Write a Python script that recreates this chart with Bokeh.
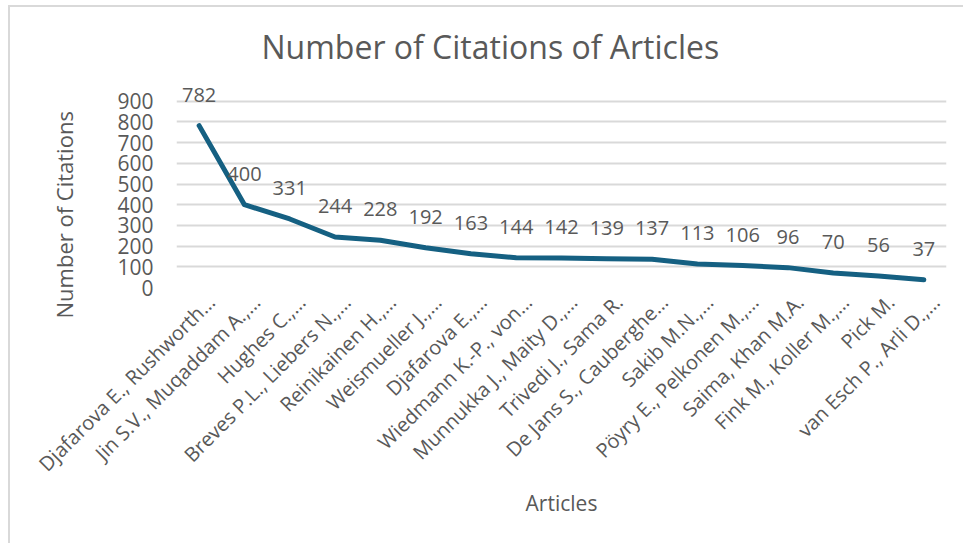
import math
from bokeh.plotting import figure
from bokeh.models import FixedTicker, ColumnDataSource, Range1d, Title, LinearAxis
from bokeh.embed import file_html
from bokeh.resources import INLINE
from bokeh.core.properties import value

articles = [
    "Djafarova E., Rushworth…",
    "Jin S.V., Muqaddam A.,…",
    "Hughes C.,…",
    "Breves P.L., Liebers N.,…",
    "Reinikainen H.,…",
    "Weismueller J.,…",
    "Djafarova E.,…",
    "Wiedmann K.-P., von…",
    "Munnukka J., Maity D.,…",
    "Trivedi J., Sama R.",
    "De Jans S., Cauberghe…",
    "Sakib M.N.,…",
    "Pöyry E., Pelkonen M.,…",
    "Saima, Khan M.A.",
    "Fink M., Koller M.,…",
    "Pick M.",
    "van Esch P., Arli D.,…",
]
citations = [782, 400, 331, 244, 228, 192, 163, 144, 142, 139, 137, 113, 106, 96, 70, 56, 37]
y_ticks = [0, 100, 200, 300, 400, 500, 600, 700, 800, 900]

FONT = "Open Sans"
GREY = "#595959"
N = len(articles)
positions = list(range(N))
LABEL_SHIFT = 0.265  # rotated labels sit slightly right of their category, as in Excel

src = ColumnDataSource(dict(x=positions, y=citations, label=[str(c) for c in citations]))

p = figure(width=955, height=538, x_range=Range1d(-0.5, N - 0.5), y_range=Range1d(0, 1000),
           output_backend="svg", toolbar_location=None,
           min_border_left=166, min_border_right=19, min_border_top=73, min_border_bottom=258,
           title="Number of Citations of Articles")
p.styles = {"margin-left": "8px", "margin-top": "5px",
            "border-left": "2px solid #d9d9d9", "border-top": "2px solid #d9d9d9"}
p.outline_line_color = None

p.title.text_font = FONT
p.title.text_font_size = "32px"
p.title.text_font_style = "normal"
p.title.text_color = GREY
p.title.align = "left"
p.title.offset = 85
p.title.standoff = 26

p.yaxis.ticker = FixedTicker(ticks=y_ticks)
p.yaxis.axis_line_color = None
p.yaxis.major_tick_line_color = None
p.yaxis.major_tick_out = 0
p.yaxis.major_tick_in = 0
p.yaxis.minor_tick_line_color = None
p.yaxis.major_label_standoff = 23
p.yaxis.major_label_text_font = FONT
p.yaxis.major_label_text_font_size = "21px"
p.yaxis.major_label_text_color = GREY

ytitle = Title(text="Number of Citations", align="left", offset=-31, standoff=72,
               text_font=FONT, text_font_size="22px", text_font_style="normal",
               text_color=GREY)
p.add_layout(ytitle, "left")

# category labels: an axis on a range offset slightly so the rotated labels end right of each point
p.xaxis.visible = False
p.extra_x_ranges = {"labels": Range1d(-0.5 - LABEL_SHIFT, N - 0.5 - LABEL_SHIFT)}
label_axis = LinearAxis(x_range_name="labels",
                        ticker=FixedTicker(ticks=positions),
                        major_label_overrides={i: name for i, name in zip(positions, articles)},
                        major_label_orientation=math.pi / 4,
                        major_label_standoff=11,
                        major_label_text_font=FONT,
                        major_label_text_font_size="20px",
                        major_label_text_color=GREY,
                        axis_line_color=None,
                        major_tick_line_color=None, major_tick_out=0, major_tick_in=0,
                        minor_tick_line_color=None,
                        axis_label="Articles",
                        axis_label_text_font=FONT,
                        axis_label_text_font_size="21px",
                        axis_label_text_font_style="normal",
                        axis_label_text_color=GREY,
                        axis_label_standoff=0)
p.add_layout(label_axis, "below")

p.xgrid.grid_line_color = None
p.ygrid.grid_line_color = "#d9d9d9"
p.ygrid.grid_line_width = 2

p.line("x", "y", source=src, line_color="#156082", line_width=5,
       line_cap="round", line_join="round")
p.text("x", "y", text="label", source=src, text_align="center", text_baseline="alphabetic",
       y_offset=-31, text_font=value(FONT), text_font_size="20px", text_color=GREY)

open("out.html", "w").write(file_html(p, INLINE))
